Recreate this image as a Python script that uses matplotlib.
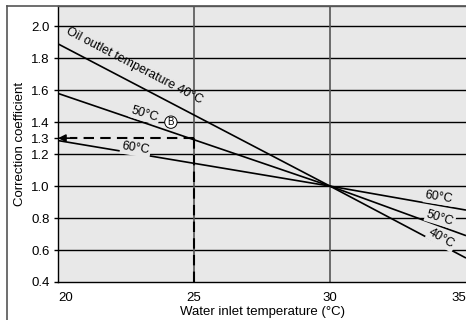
import matplotlib
matplotlib.use("Agg")
import matplotlib.pyplot as plt
from matplotlib.lines import Line2D

plt.rcParams['font.family'] = ['Liberation Sans', 'DejaVu Sans']

# Data
water_temp = [20, 30, 35]
coef_40 = [1.89, 1.00, 0.55]
coef_50 = [1.58, 1.00, 0.69]
coef_60 = [1.285, 1.00, 0.85]
x_ticks = [20, 25, 30, 35]
y_ticks = [0.4, 0.6, 0.8, 1.0, 1.2, 1.3, 1.4, 1.6, 1.8, 2.0]
y_grid = [0.6, 0.8, 1.0, 1.2, 1.4, 1.6, 1.8, 2.0]
x_grid = [25, 30]
read_x = 25
read_y = 1.3

W, H = 466, 320
fig = plt.figure(figsize=(W / 100, H / 100), dpi=100)
fig.patch.set_facecolor('white')

ax = fig.add_axes([58 / W, 1 - 282 / H, 1 - 58 / W, (282 - 5.5) / H])
bg = '#e8e8e8'
ax.set_facecolor(bg)
ax.set_xlim(20, 35)
ax.set_ylim(0.4, 2.13)

for yv in y_grid:
    ax.axhline(yv, color='black', lw=1.0, zorder=1)
for xv in x_grid:
    ax.axvline(xv, color='#555555', lw=1.2, zorder=1)

for ys in (coef_40, coef_50, coef_60):
    ax.plot(water_temp, ys, color='black', lw=1.2, zorder=3, solid_capstyle='butt')

# reading example (dashed)
ax.plot([read_x, read_x], [0.4, read_y], color='black', lw=1.5, ls=(0, (5, 3)), zorder=4)
ax.plot([read_x, 20.45], [read_y, read_y], color='black', lw=1.5, ls=(0, (5, 3)), zorder=4)
ax.annotate('', xy=(20, read_y), xytext=(20.55, read_y),
            arrowprops=dict(arrowstyle='-|>', color='black', lw=1.2, mutation_scale=11,
                            shrinkA=0, shrinkB=0), zorder=5)

ax.spines['right'].set_visible(False)
ax.spines['top'].set_color('#555555')
ax.spines['left'].set_color('black')
ax.spines['bottom'].set_color('black')
for s in ax.spines.values():
    s.set_linewidth(1.0)

ax.set_xticks(x_ticks)
ax.set_xticklabels([str(v) for v in x_ticks])
ax.set_yticks(y_ticks)
ax.set_yticklabels([f'{v:.1f}' for v in y_ticks])
ax.tick_params(axis='x', length=0, pad=7, labelsize=9.5)
ax.tick_params(axis='y', length=3, pad=3, labelsize=9.5, width=1)
xl = ax.get_xticklabels()
xl[0].set_ha('left')
xl[-1].set_ha('right')

ax.set_xlabel('Water inlet temperature (°C)', fontsize=9.5, labelpad=2)
ax.set_ylabel('Correction coefficient', fontsize=9.5, labelpad=4)

tk = dict(fontsize=9, ha='center', va='center', zorder=6, rotation_mode='anchor')
box = dict(boxstyle='square,pad=0.1', fc=bg, ec='none')
ax.text(22.8, 1.755, 'Oil outlet temperature 40°C', rotation=-27.5, **tk)
ax.text(23.2, 1.45, '50°C', rotation=-17, bbox=box, **tk)
ax.text(24.15, 1.40, 'B', fontsize=7, ha='center', va='center', zorder=6,
        bbox=dict(boxstyle='circle,pad=0.12', fc='white', ec='black', lw=0.7))
ax.text(22.85, 1.235, '60°C', rotation=-9, bbox=box, **tk)
ax.text(34.0, 0.93, '60°C', rotation=-9, bbox=box, **tk)
ax.text(34.05, 0.80, '50°C', rotation=-17, bbox=box, **tk)
ax.text(34.1, 0.67, '40°C', rotation=-30, bbox=box, **tk)

# outer frame
fig.add_artist(Line2D([7 / W, 7 / W], [0, 1 - 5.5 / H], color='#555555', lw=1.2))
fig.add_artist(Line2D([7 / W, 1], [1 - 5.5 / H, 1 - 5.5 / H], color='#555555', lw=1.2))

fig.savefig('out.png', dpi=100, facecolor='white')
